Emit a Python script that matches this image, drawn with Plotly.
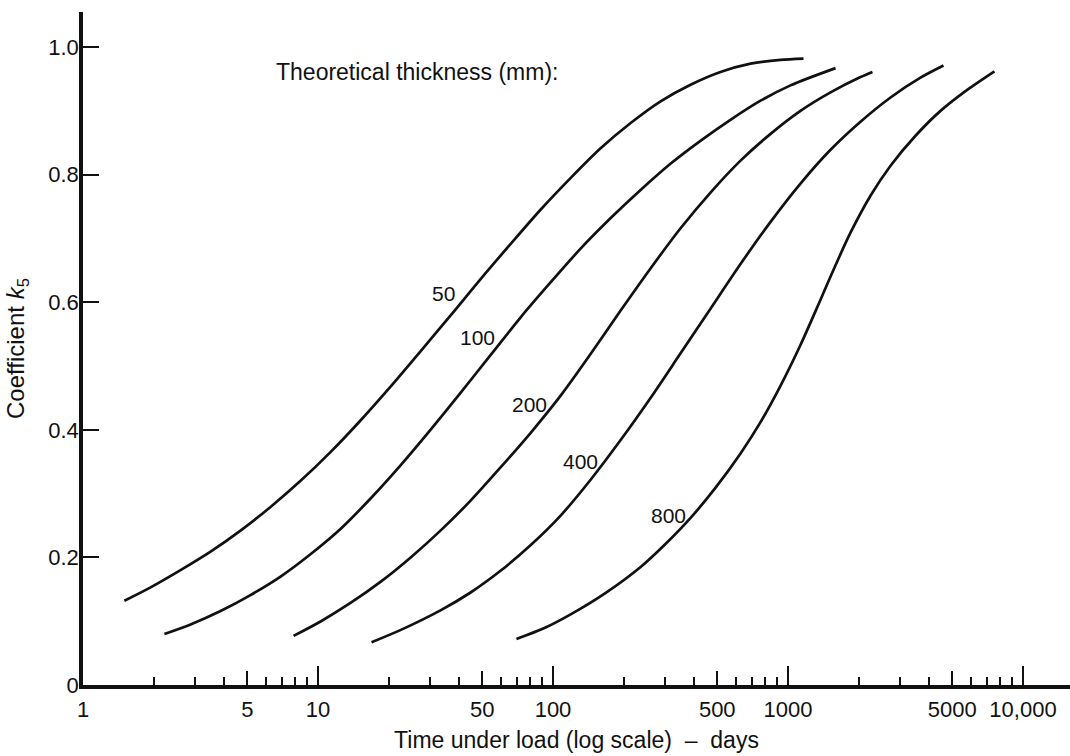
import numpy as np
import plotly.graph_objects as go

# ---- data ----
thickness = ["50", "100", "200", "400", "800"]

t_50 = [1.50, 1.94, 2.60, 3.49, 4.68, 6.28, 8.43, 11.3, 15.2, 20.4, 27.3, 36.6, 49.1, 65.9,
        88.5, 119, 159, 214, 287, 385, 516, 693, 929, 1164]
k_50 = [0.132, 0.153, 0.180, 0.209, 0.242, 0.279, 0.320, 0.365, 0.415, 0.468, 0.523, 0.579,
        0.636, 0.691, 0.745, 0.795, 0.841, 0.881, 0.915, 0.941, 0.961, 0.974, 0.980, 0.982]

t_100 = [2.22, 2.87, 3.85, 5.16, 6.93, 9.29, 12.5, 16.7, 22.4, 30.1, 40.4, 54.2, 72.7, 97.6,
         131, 176, 236, 316, 424, 569, 764, 1025, 1593]
k_100 = [0.080, 0.095, 0.116, 0.141, 0.170, 0.205, 0.245, 0.292, 0.344, 0.400, 0.458, 0.517,
         0.576, 0.631, 0.684, 0.732, 0.776, 0.817, 0.853, 0.886, 0.916, 0.940, 0.967]

t_200 = [7.87, 10.3, 13.8, 18.5, 24.8, 33.2, 44.6, 59.8, 80.2, 108, 144, 194, 260, 349, 468,
         628, 843, 1130, 1517, 2035, 2288]
k_200 = [0.077, 0.100, 0.129, 0.162, 0.200, 0.242, 0.289, 0.341, 0.395, 0.454, 0.518, 0.587,
         0.653, 0.716, 0.772, 0.822, 0.864, 0.900, 0.929, 0.953, 0.961]

t_400 = [16.9, 22.4, 33.2, 44.6, 59.8, 80.2, 108, 144, 194, 260, 349, 468, 628, 843, 1130,
         1517, 2035, 2731, 3663, 4589]
k_400 = [0.067, 0.086, 0.117, 0.145, 0.179, 0.219, 0.266, 0.321, 0.384, 0.450, 0.520, 0.590,
         0.660, 0.726, 0.786, 0.839, 0.883, 0.921, 0.952, 0.971]

t_800 = [69.9, 92.9, 122, 167, 236, 301, 385, 491, 628, 764, 929, 1130, 1375, 1593, 1845,
         2244, 2731, 3488, 4456, 5692, 7560]
k_800 = [0.072, 0.090, 0.113, 0.144, 0.185, 0.221, 0.262, 0.309, 0.363, 0.412, 0.469, 0.533,
         0.604, 0.658, 0.709, 0.767, 0.814, 0.861, 0.900, 0.931, 0.962]

# curve label anchor points (time, k)
label_t = [34.2, 47.7, 79.4, 131, 310]
label_k = [0.614, 0.544, 0.439, 0.350, 0.265]

x_tickvals = [1, 5, 10, 50, 100, 500, 1000, 5000, 10000]
x_ticktext = ["1", "5", "10", "50", "100", "500", "1000", "5000", "10,000"]
x_decades = [10, 100, 1000, 10000]
x_minor = [m * d for d in [1, 10, 100, 1000] for m in [2, 3, 4, 6, 7, 8, 9]]
y_tickvals = [0, 0.2, 0.4, 0.6, 0.8, 1.0]
y_ticktext = ["0", "0.2", "0.4", "0.6", "0.8", "1.0"]

FONT = "Liberation Sans, Arial, Helvetica, sans-serif"
INK = "#111111"

series = [(t_50, k_50), (t_100, k_100), (t_200, k_200), (t_400, k_400), (t_800, k_800)]

fig = go.Figure()
for name, (tt, kk) in zip(thickness, series):
    fig.add_trace(go.Scatter(
        x=tt, y=kk, mode="lines", name=name,
        line=dict(color=INK, width=2.7, shape="spline", smoothing=0.8),
        showlegend=False, hoverinfo="x+y"))

# helper trace so the overlay axis (long decade ticks) is drawn
fig.add_trace(go.Scatter(x=t_50, y=k_50, xaxis="x2", yaxis="y", mode="lines",
                         line=dict(width=0), opacity=0, showlegend=False, hoverinfo="skip"))

for txt, lt, lk in zip(thickness, label_t, label_k):
    fig.add_annotation(x=np.log10(lt), y=lk, text=txt, showarrow=False,
                       font=dict(family=FONT, size=21, color=INK),
                       xanchor="center", yanchor="middle")

fig.add_annotation(x=np.log10(6.47), y=0.961, text="Theoretical thickness (mm):",
                   showarrow=False, xanchor="left", yanchor="middle",
                   font=dict(family=FONT, size=23, color=INK))

fig.update_layout(
    width=1070, height=756,
    margin=dict(l=83, r=0, t=12, b=71),
    paper_bgcolor="white", plot_bgcolor="white",
    font=dict(family=FONT, size=22, color=INK),
    xaxis=dict(
        type="log", range=[0, 4.2],
        tickmode="array", tickvals=x_tickvals, ticktext=x_ticktext,
        tickfont=dict(family=FONT, size=22, color=INK),
        ticks="inside", ticklen=14, tickwidth=2, tickcolor=INK,
        minor=dict(tickmode="array", tickvals=x_minor, ticks="inside",
                   ticklen=8, tickwidth=1.6, tickcolor=INK, showgrid=False),
        showline=True, linewidth=3.5, linecolor=INK,
        showgrid=False, zeroline=False,
        ticklabelstandoff=2,
        title=dict(text="Time under load (log scale)\u00a0 \u2013\u00a0 days",
                   font=dict(family=FONT, size=23, color=INK), standoff=12),
    ),
    xaxis2=dict(
        type="log", range=[0, 4.2], overlaying="x", anchor="y", side="bottom",
        tickmode="array", tickvals=x_decades, showticklabels=False,
        ticks="inside", ticklen=19, tickwidth=2, tickcolor=INK,
        showline=False, showgrid=False, zeroline=False,
    ),
    yaxis=dict(
        range=[0, 1.055],
        tickmode="array", tickvals=y_tickvals, ticktext=y_ticktext,
        tickfont=dict(family=FONT, size=22, color=INK),
        ticks="inside", ticklen=16, tickwidth=2, tickcolor=INK,
        showline=True, linewidth=3.5, linecolor=INK,
        showgrid=False, zeroline=False,
        ticklabelstandoff=-4,
        title=dict(text="Coefficient <i>k</i><sub>5</sub>",
                   font=dict(family=FONT, size=24, color=INK), standoff=18),
    ),
)

fig.write_html("out.html")
